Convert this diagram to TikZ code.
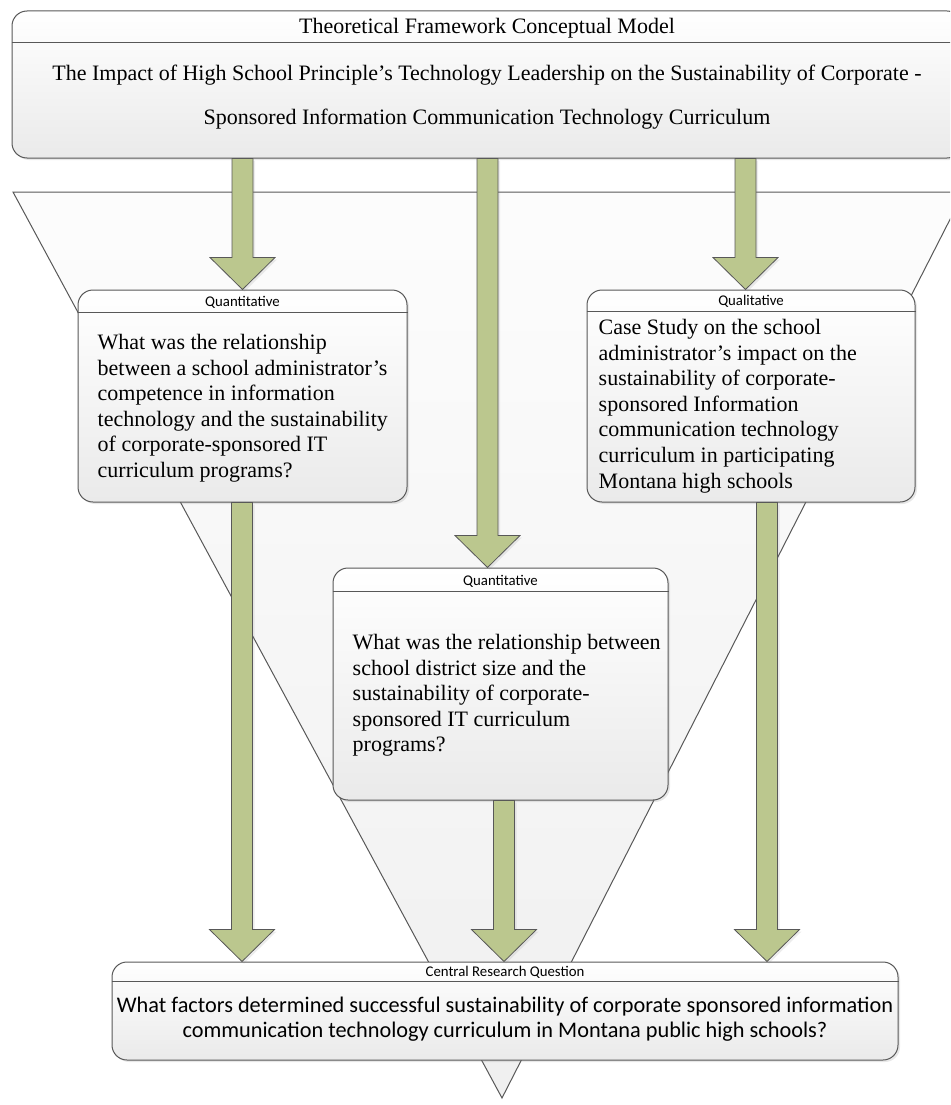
\documentclass[tikz,border=0pt]{standalone}
\usepackage{fontspec}
\setmainfont{Liberation Serif}
\newfontfamily\calibri{Carlito}
\usetikzlibrary{calc,shadows}

\definecolor{arrowgreen}{RGB}{187,199,142}
\definecolor{edgegray}{RGB}{88,88,88}
\definecolor{boxlow}{RGB}{234,234,234}

\newcommand{\blockarrow}[3]{%
  \draw[fat] let \p1=(#2), \p2=(#3) in
    (#1pt-10.5pt,\y1) -- (#1pt-10.5pt,\y2+32pt) -- (#1pt-32.5pt,\y2+32pt)
    -- (#1pt,\y2) -- (#1pt+32.5pt,\y2+32pt) -- (#1pt+10.5pt,\y2+32pt)
    -- (#1pt+10.5pt,\y1) -- cycle;}

\begin{document}
\begin{tikzpicture}[x=1pt, y=-1pt,
      edge/.style={draw=edgegray, line width=1pt},
      panel/.style={edge, rounded corners=15pt, top color=white, bottom color=boxlow,
        drop shadow={shadow xshift=2pt, shadow yshift=-2pt, opacity=.18}},
      funnel/.style={edge, top color=black!1, bottom color=black!6},
      fat/.style={draw=edgegray, line width=.8pt, fill=arrowgreen,
        drop shadow={shadow xshift=2pt, shadow yshift=-2pt, opacity=.15}},
      hdr/.style={font=\calibri\fontsize{14.8}{16}\selectfont, inner sep=0pt, anchor=base},
      txt/.style={font=\fontsize{22}{25.6}\selectfont, inner sep=0pt, align=left, anchor=base west}]

  \useasboundingbox (0,0) rectangle (950,1105);
  \clip (0,0) rectangle (950,1105);

  \draw[funnel] (13,192) -- (964,192) -- (502,1098) -- cycle;

  \node[panel, minimum width=950pt, minimum height=147pt] (T) at (487,84.5) {};
  \draw[edge] ($(T.north west)+(0,32)$) -- ($(T.north east)+(0,32)$);
  \node[inner sep=0pt, anchor=base, font=\fontsize{22}{26}\selectfont] (Tt) at ($(T.north)+(0,23)$)
    {Theoretical Framework Conceptual Model};
  \node[inner sep=0pt, anchor=base, align=center, font=\fontsize{22}{44}\selectfont] (Tb) at ($(T.north)+(0,114)$)
    {The Impact of High School Principle’s Technology Leadership on the Sustainability of Corporate -\\
     Sponsored Information Communication Technology Curriculum};

  \node[panel, minimum width=329pt, minimum height=212pt] (Q1) at (242.5,396) {};
  \draw[edge] ($(Q1.north west)+(0,23)$) -- ($(Q1.north east)+(0,23)$);
  \node[hdr] (Q1h) at ($(Q1.north)+(0,17)$) {Quantitative};
  \node[txt] (Q1t) at ($(Q1.north west)+(20,188)$)
    {What was the relationship\\
     between a school administrator’s\\
     competence in information\\
     technology and the sustainability\\
     of corporate-sponsored IT\\
     curriculum programs?};

  \node[panel, minimum width=328pt, minimum height=212pt] (Q2) at (751,396) {};
  \draw[edge] ($(Q2.north west)+(0,22)$) -- ($(Q2.north east)+(0,22)$);
  \node[hdr] (Q2h) at ($(Q2.north)+(0,16)$) {Qualitative};
  \node[txt] (Q2t) at ($(Q2.north west)+(12,198.6)$)
    {Case Study on the school\\
     administrator’s impact on the\\
     sustainability of corporate-\\
     sponsored Information\\
     communication technology\\
     curriculum in participating\\
     Montana high schools};

  \node[panel, minimum width=335pt, minimum height=232pt] (Q3) at (500.5,684) {};
  \draw[edge] ($(Q3.north west)+(0,24)$) -- ($(Q3.north east)+(0,24)$);
  \node[hdr] (Q3h) at ($(Q3.north)+(0,18)$) {Quantitative};
  \node[txt] (Q3t) at ($(Q3.north west)+(20,184.4)$)
    {What was the relationship between\\
     school district size and the\\
     sustainability of corporate-\\
     sponsored IT curriculum\\
     programs?};

  \node[panel, minimum width=786pt, minimum height=98pt] (C) at (505,1011) {};
  \draw[edge] ($(C.north west)+(0,20)$) -- ($(C.north east)+(0,20)$);
  \node[hdr] (Ch) at ($(C.north)+(0,15)$) {Central Research Question};
  \node[inner sep=0pt, anchor=base, align=center, font=\calibri\fontsize{22.3}{25.5}\selectfont] (Ct)
    at ($(C.north)+(0,76)$)
    {What factors determined successful sustainability of corporate sponsored information\\
     communication technology curriculum in Montana public high schools?};

  \blockarrow{242.5}{T.south}{Q1.north}
  \blockarrow{487.5}{T.south}{Q3.north}
  \blockarrow{745.5}{T.south}{Q2.north}
  \blockarrow{242}{Q1.south}{C.north}
  \blockarrow{504}{Q3.south}{C.north}
  \blockarrow{767}{Q2.south}{C.north}
\end{tikzpicture}
\end{document}
